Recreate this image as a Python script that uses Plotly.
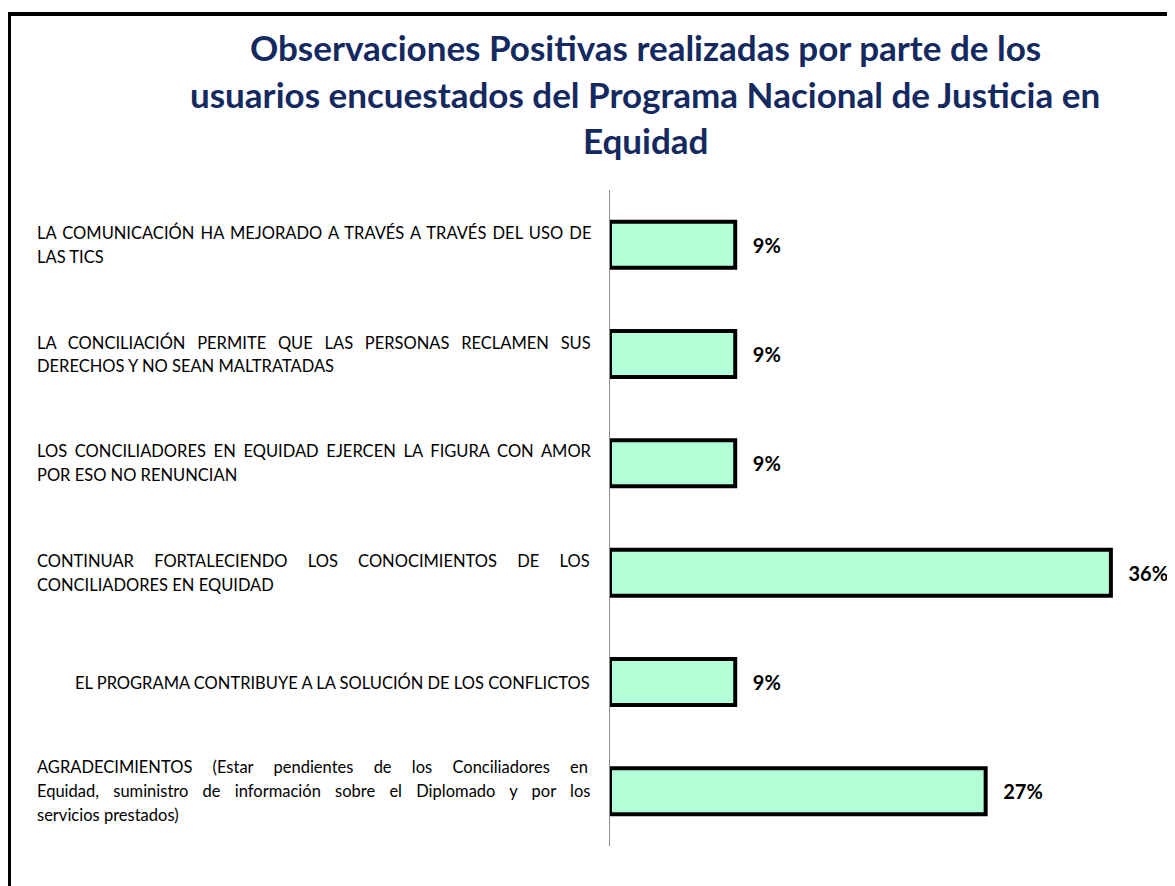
import plotly.graph_objects as go

# ---- data ---------------------------------------------------------------
CATEGORIES = [
    "LA COMUNICACIÓN HA MEJORADO A TRAVÉS A TRAVÉS DEL USO DE LAS TICS",
    "LA CONCILIACIÓN PERMITE QUE LAS PERSONAS RECLAMEN SUS DERECHOS Y NO SEAN MALTRATADAS",
    "LOS CONCILIADORES EN EQUIDAD EJERCEN LA FIGURA CON AMOR POR ESO NO RENUNCIAN",
    "CONTINUAR FORTALECIENDO LOS CONOCIMIENTOS DE LOS CONCILIADORES EN EQUIDAD",
    "EL PROGRAMA CONTRIBUYE A LA SOLUCIÓN DE LOS CONFLICTOS",
    "AGRADECIMIENTOS (Estar pendientes de los Conciliadores en Equidad, suministro de "
    "información sobre el Diplomado y por los servicios prestados)",
]
# how each category label is broken into lines in the original
LABEL_LINES = [
    ["LA COMUNICACIÓN HA MEJORADO A TRAVÉS A TRAVÉS DEL USO DE", "LAS TICS"],
    ["LA CONCILIACIÓN PERMITE QUE LAS PERSONAS RECLAMEN SUS", "DERECHOS Y NO SEAN MALTRATADAS"],
    ["LOS CONCILIADORES EN EQUIDAD EJERCEN LA FIGURA CON AMOR", "POR ESO NO RENUNCIAN"],
    ["CONTINUAR FORTALECIENDO LOS CONOCIMIENTOS DE LOS", "CONCILIADORES EN EQUIDAD"],
    ["EL PROGRAMA CONTRIBUYE A LA SOLUCIÓN DE LOS CONFLICTOS"],
    ["AGRADECIMIENTOS (Estar pendientes de los Conciliadores en",
     "Equidad, suministro de información sobre el Diplomado y por los",
     "servicios prestados)"],
]
# extra word spacing (px) used to fake the justified lines of the original
LINE_WORD_SPACING = [
    [2.0, 0],
    [7.5, 0],
    [3.5, 0],
    [16.0, 0],
    [0],
    [16.0, 10.0, 0],
]
PERCENTS = [9.09, 9.09, 9.09, 36.36, 9.09, 27.27]
PERCENT_LABELS = ["9%", "9%", "9%", "36%", "9%", "27%"]
TITLE_LINES = [
    "Observaciones Positivas realizadas por parte de los",
    "usuarios encuestados del Programa Nacional de Justicia en",
    "Equidad",
]

FONT = "Lato"
TITLE_COLOUR = "#14295F"
BAR_FILL = "#B3FFD7"

# the page body adds an 8px margin, so the figure is 8px smaller
W, H = 1167, 878
M_L, M_R, M_T, M_B = 602, 25, 182, 40
PLOT_W = W - M_L - M_R
PLOT_H = H - M_T - M_B

fig = go.Figure(
    go.Bar(
        x=PERCENTS,
        y=CATEGORIES,
        orientation="h",
        width=0.42,
        marker=dict(color=BAR_FILL, line=dict(color="black", width=4)),
        text=["\u00a0\u00a0\u00a0" + t for t in PERCENT_LABELS],
        textposition="outside",
        textfont=dict(family=FONT, size=20, color="black", weight="bold"),
        cliponaxis=False,
        hoverinfo="skip",
    )
)

annotations = []
# category labels, one annotation per line so the line spacing matches
LINE_GAP = 24
for cat, lines, spacing in zip(CATEGORIES, LABEL_LINES, LINE_WORD_SPACING):
    n = len(lines)
    for k, (line, ws) in enumerate(zip(lines, spacing)):
        single = n == 1
        txt = f'<span style="word-spacing:{ws}px">{line}</span>' if ws else line
        annotations.append(
            dict(
                xref="paper", yref="y",
                x=0, y=cat,
                xshift=-18 if single else -575,
                yshift=((n - 1) / 2 - k) * LINE_GAP,
                xanchor="right" if single else "left",
                yanchor="middle",
                text=txt,
                showarrow=False,
                font=dict(family=FONT, size=16.5, color="black"),
            )
        )

# title, three centred lines
for k, line in enumerate(TITLE_LINES):
    annotations.append(
        dict(
            xref="paper", yref="paper",
            x=0, y=1,
            xshift=35,
            yshift=143 - k * 46.5,
            xanchor="center", yanchor="middle",
            text=f"<b>{line}</b>",
            showarrow=False,
            font=dict(family=FONT, size=35, color=TITLE_COLOUR),
        )
    )

# outer frame of the chart (runs off the right and bottom of the picture)
fig.add_shape(
    type="rect",
    xref="paper", yref="paper",
    x0=(1 - M_L) / PLOT_W, x1=(W + 40 - M_L) / PLOT_W,
    y0=-(M_B + 40) / PLOT_H, y1=(H - M_B - 6) / PLOT_H,
    line=dict(color="black", width=4),
    layer="above",
)

fig.update_layout(
    width=W,
    height=H,
    margin=dict(l=M_L, r=M_R, t=M_T, b=M_B),
    plot_bgcolor="white",
    paper_bgcolor="white",
    showlegend=False,
    annotations=annotations,
)
fig.update_xaxes(visible=False, range=[0, 39.2])
fig.update_yaxes(
    autorange="reversed",
    showticklabels=False,
    showgrid=False,
    zeroline=False,
    showline=True,
    linecolor="#8c8c8c",
    linewidth=1,
    ticks="",
    layer="above traces",
)

fig.write_html("out.html")
